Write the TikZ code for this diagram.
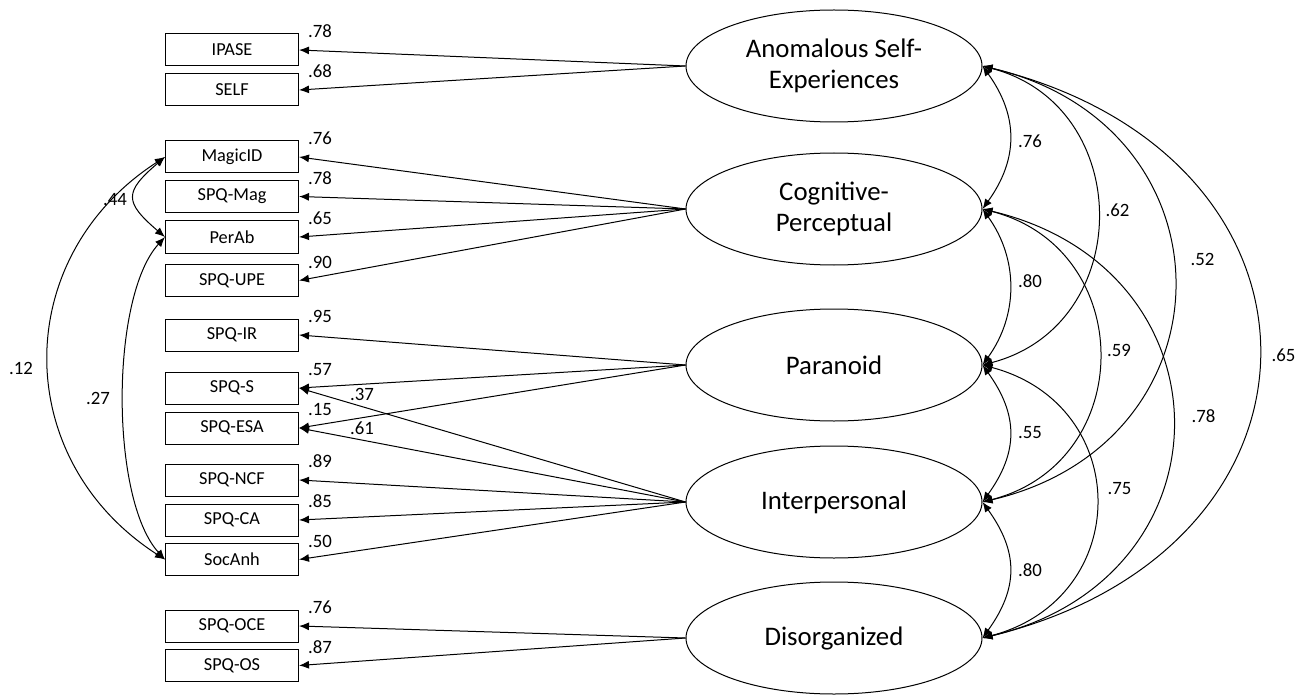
\documentclass[tikz,border=0pt]{standalone}
\usepackage{fontspec}
\setmainfont{Carlito}
\usetikzlibrary{shapes.geometric,arrows.meta,positioning}

\tikzset{
  manifest/.style={draw, line width=1pt, minimum width=133pt, minimum height=32pt, inner sep=0pt, font=\fontsize{18.3}{21}\selectfont},
  latent/.style={draw, ellipse, line width=1pt, minimum width=296pt, minimum height=112pt, inner sep=0pt, align=center, font=\fontsize{26.8}{31}\selectfont},
  load/.style={-{Latex[length=10pt,width=8pt]}, line width=1pt},
  cov/.style={{Latex[length=10pt,width=8pt]}-{Latex[length=10pt,width=8pt]}, line width=1pt},
  est/.style={inner sep=0pt, font=\fontsize{18.8}{21}\selectfont},
}

\begin{document}
\begin{tikzpicture}[x=1pt, y=-1pt]
\useasboundingbox (0,0) rectangle (1298,695);

% factors
\node[latent] (ase) at (834,66) {Anomalous Self-\\Experiences};
\node[latent] (cp)  at (834,209) {Cognitive-\\Perceptual};
\node[latent] (par) at (834,365) {Paranoid};
\node[latent] (ip)  at (834,502) {Interpersonal};
\node[latent] (dis) at (834,638) {Disorganized};

% indicators
\node[manifest] (ipase)  at (232,50)    {IPASE};
\node[manifest] (self)   at (232,90)    {SELF};
\node[manifest] (magic)  at (232,157)   {MagicID};
\node[manifest] (spqmag) at (232,196.5) {SPQ-Mag};
\node[manifest] (perab)  at (232,237)   {PerAb};
\node[manifest] (spqupe) at (232,280.5) {SPQ-UPE};
\node[manifest] (spqir)  at (232,335)   {SPQ-IR};
\node[manifest] (spqs)   at (232,388)   {SPQ-S};
\node[manifest] (spqesa) at (232,428)   {SPQ-ESA};
\node[manifest] (spqncf) at (232,480)   {SPQ-NCF};
\node[manifest] (spqca)  at (232,520)   {SPQ-CA};
\node[manifest] (socanh) at (232,559.5) {SocAnh};
\node[manifest] (spqoce) at (232,626)   {SPQ-OCE};
\node[manifest] (spqos)  at (232,665.5) {SPQ-OS};

% loadings
\draw[load] (ase.west) -- (ipase.east);
\draw[load] (ase.west) -- (self.east);
\draw[load] (cp.west) -- (magic.east);
\draw[load] (cp.west) -- (spqmag.east);
\draw[load] (cp.west) -- (perab.east);
\draw[load] (cp.west) -- (spqupe.east);
\draw[load] (par.west) -- (spqir.east);
\draw[load] (par.west) -- (spqs.east);
\draw[load] (par.west) -- (spqesa.east);
\draw[load] (ip.west) -- (spqs.east);
\draw[load] (ip.west) -- (spqesa.east);
\draw[load] (ip.west) -- (spqncf.east);
\draw[load] (ip.west) -- (spqca.east);
\draw[load] (ip.west) -- (socanh.east);
\draw[load] (dis.west) -- (spqoce.east);
\draw[load] (dis.west) -- (spqos.east);

\node[est, right=9pt of ipase.north east, yshift=2pt]  (l1)  {.78};
\node[est, right=9pt of self.north east, yshift=2pt]   (l2)  {.68};
\node[est, right=9pt of magic.north east, yshift=2pt]  (l3)  {.76};
\node[est, right=9pt of spqmag.north east, yshift=2pt] (l4)  {.78};
\node[est, right=9pt of perab.north east, yshift=2pt]  (l5)  {.65};
\node[est, right=9pt of spqupe.north east, yshift=2pt] (l6)  {.90};
\node[est, right=9pt of spqir.north east, yshift=2pt]  (l7)  {.95};
\node[est, right=9pt of spqs.north east, yshift=2pt]   (l8)  {.57};
\node[est, right=9pt of spqesa.north east, yshift=2pt] (l9)  {.15};
\node[est, right=9pt of spqncf.north east, yshift=2pt] (l10) {.89};
\node[est, right=9pt of spqca.north east, yshift=2pt]  (l11) {.85};
\node[est, right=9pt of socanh.north east, yshift=2pt] (l12) {.50};
\node[est, right=9pt of spqoce.north east, yshift=2pt] (l13) {.76};
\node[est, right=9pt of spqos.north east, yshift=2pt]  (l14) {.87};
\node[est] (l15) at (362,394) {.37};
\node[est] (l16) at (362,428) {.61};

% residual covariances
\draw[cov] (magic.west) .. controls +(-41,35) and +(-41,-35) .. (perab.west);
\draw[cov] (magic.west) .. controls +(-155,100) and +(-155,-100) .. (socanh.west);
\draw[cov] (perab.west) .. controls +(-55,60) and +(-55,-60) .. (socanh.west);
\node[est] (c1) at (115,200) {.44};
\node[est] (c2) at (21,368)  {.12};
\node[est] (c3) at (98,398)  {.27};

% factor correlations
\draw[cov] (ase.east) .. controls +(36,50) and +(36,-50) .. (cp.east);
\draw[cov] (cp.east) .. controls +(36,50) and +(36,-50) .. (par.east);
\draw[cov] (par.east) .. controls +(36,50) and +(36,-50) .. (ip.east);
\draw[cov] (ip.east) .. controls +(36,50) and +(36,-50) .. (dis.east);
\draw[cov] (ase.east) .. controls +(153,40) and +(153,-40) .. (par.east);
\draw[cov] (cp.east) .. controls +(155,40) and +(155,-40) .. (ip.east);
\draw[cov] (par.east) .. controls +(151,40) and +(151,-40) .. (dis.east);
\draw[cov] (ase.east) .. controls +(255,60) and +(255,-60) .. (ip.east);
\draw[cov] (cp.east) .. controls +(253,60) and +(253,-60) .. (dis.east);
\draw[cov] (ase.east) .. controls +(368,90) and +(368,-90) .. (dis.east);
\node[est] (r1)  at (1030,141)   {.76};
\node[est] (r2)  at (1030,281)   {.80};
\node[est] (r3)  at (1030,433)   {.55};
\node[est] (r4)  at (1030,570)   {.80};
\node[est] (r5)  at (1117.5,210) {.62};
\node[est] (r6)  at (1119,350)   {.59};
\node[est] (r7)  at (1119.5,489) {.75};
\node[est] (r8)  at (1202.5,259) {.52};
\node[est] (r9)  at (1203.5,416) {.78};
\node[est] (r10) at (1283.5,355) {.65};
\end{tikzpicture}
\end{document}
